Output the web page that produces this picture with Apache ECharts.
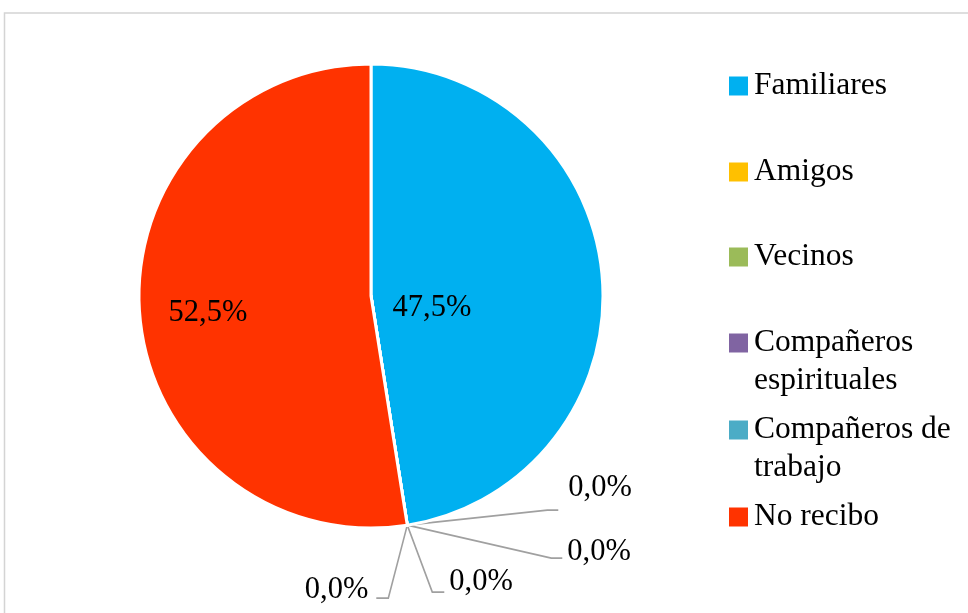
<!DOCTYPE html>
<html>
<head>
<meta charset="utf-8">
<script src="https://cdn.jsdelivr.net/npm/echarts@6/dist/echarts.min.js"></script>
<style>
  html, body { margin: 0; padding: 0; background: #fff; }
  #chart { width: 968px; height: 613px; }
</style>
</head>
<body>
<div id="chart"></div>
<script>
// Fuentes de apoyo recibidas (porcentaje)
const categories = ['Familiares', 'Amigos', 'Vecinos', 'Compañeros espirituales', 'Compañeros de trabajo', 'No recibo'];
const legendText = ['Familiares', 'Amigos', 'Vecinos', 'Compañeros\nespirituales', 'Compañeros de\ntrabajo', 'No recibo'];
const values = [47.5, 0.0, 0.0, 0.0, 0.0, 52.5];
const colors = ['#00B0F0', '#FFC000', '#9BBB59', '#8064A2', '#4BACC6', '#FF3300'];

// Geometría del gráfico
const CENTER = [371, 296];
const RADIUS = 232;
const FONT = '"Liberation Serif", "Times New Roman", serif';
const LABEL_SIZE = 30.5;
const LEGEND_SIZE = 31.5;
const LINE_H = 37.5;
const legendRowY = [85, 171, 256, 342, 429, 516];   // centro del icono de cada fila

// Desplazamiento de las etiquetas interiores respecto al centro
const insideOffset = { 0: [61, 12], 5: [-163, 17] };
// Guías de las etiquetas de 0,0 %: codo, final de línea y texto (relativos al borde)
const leader = {
  1: { bend: [140, -15], end: [151, -15], text: [161, -37], align: 'left' },
  2: { bend: [144, 33], end: [155, 33], text: [160, 27], align: 'left' },
  3: { bend: [25, 67], end: [37, 67], text: [42, 57], align: 'left' },
  4: { bend: [-19, 73], end: [-31, 73], text: [-39, 65], align: 'right' }
};

const total = values.reduce((a, b) => a + b, 0);
const fmt = v => v.toFixed(1).replace('.', ',') + '%';

function edgePoint(i) {
  const before = values.slice(0, i).reduce((a, b) => a + b, 0);
  const a = (before + values[i] / 2) / total * 2 * Math.PI;
  return [CENTER[0] + RADIUS * Math.sin(a), CENTER[1] - RADIUS * Math.cos(a)];
}

// Una leyenda por fila; en las de dos líneas se añade una línea vacía arriba
// para que el icono quede a la altura de la primera línea de texto.
const legends = categories.map((name, i) => {
  const multi = legendText[i].indexOf('\n') >= 0;
  return {
    data: [name],
    left: 727,
    top: legendRowY[i] + 1 - (multi ? LINE_H * 1.5 : LINE_H / 2),
    orient: 'vertical',
    padding: 0,
    itemWidth: 21,
    itemHeight: 21,
    icon: 'rect',
    selectedMode: false,
    formatter: () => (multi ? ' \n' : '') + legendText[i],
    textStyle: {
      fontFamily: FONT,
      fontSize: LEGEND_SIZE,
      color: '#000',
      lineHeight: LINE_H
    }
  };
});

const chart = echarts.init(document.getElementById('chart'), null, { renderer: 'canvas' });
chart.setOption({
  backgroundColor: '#fff',
  animation: false,
  color: colors,
  graphic: [{
    type: 'rect',
    shape: { x: 4.5, y: 13, width: 1000, height: 700 },
    style: { fill: 'none', stroke: '#d4d4d4', lineWidth: 1.5 },
    silent: true
  }],
  legend: legends,
  series: [{
    type: 'pie',
    center: CENTER,
    radius: [0, RADIUS],
    startAngle: 90,
    clockwise: true,
    avoidLabelOverlap: false,
    itemStyle: { borderColor: '#fff', borderWidth: 3 },
    emphasis: { disabled: true },
    label: {
      show: true,
      formatter: p => fmt(p.value),
      fontFamily: FONT,
      fontSize: LABEL_SIZE,
      color: '#000'
    },
    labelLine: {
      show: true,
      length: 20,
      length2: 10,
      lineStyle: { color: '#A0A0A0', width: 1.6 }
    },
    labelLayout: p => {
      const i = p.dataIndex;
      if (values[i] > 0) {
        const o = insideOffset[i];
        return { x: CENTER[0] + o[0], y: CENTER[1] + o[1], align: 'center', verticalAlign: 'middle' };
      }
      const e = edgePoint(i);
      const o = leader[i];
      return {
        x: e[0] + o.text[0],
        y: e[1] + o.text[1],
        align: o.align,
        verticalAlign: 'middle',
        labelLinePoints: [
          [e[0], e[1]],
          [e[0] + o.bend[0], e[1] + o.bend[1]],
          [e[0] + o.end[0], e[1] + o.end[1]]
        ]
      };
    },
    data: categories.map((name, i) => ({
      name: name,
      value: values[i],
      label: values[i] > 0 ? { position: 'inside' } : { position: 'outside' },
      labelLine: { show: values[i] === 0 }
    }))
  }]
});
</script>
</body>
</html>
